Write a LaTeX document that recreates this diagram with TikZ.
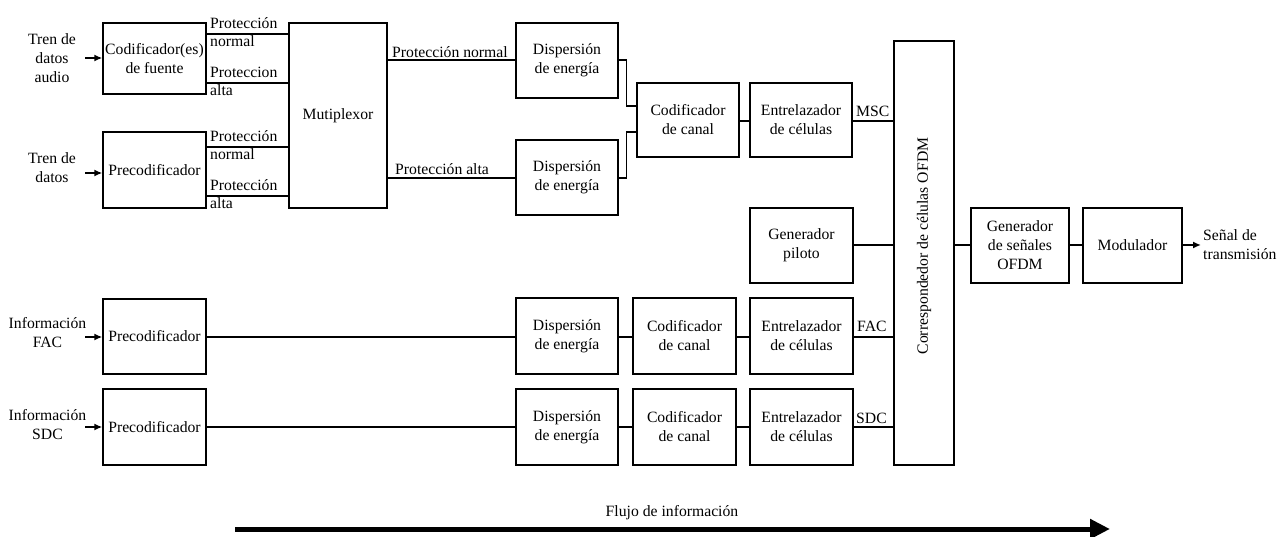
\documentclass[tikz,border=0pt]{standalone}
\usepackage{fontspec}
\setmainfont{Liberation Serif}
\usetikzlibrary{arrows.meta}
\tikzset{
  txt/.style={font=\fontsize{15.7}{19}\selectfont, inner sep=0pt},
  box/.style={txt, draw, line width=1.3pt, align=center},
  conn/.style={line width=2.6pt},
  thinconn/.style={line width=1.3pt},
  inarr/.style={line width=2pt, -{Latex[length=8pt,width=7pt]}},
  flow/.style={line width=5pt, -{Triangle[length=20pt,width=19pt]}},
  lab/.style={txt, align=center},
  plab/.style={txt, anchor=base west}
}
\begin{document}
\begin{tikzpicture}[x=1pt,y=-1pt]
\useasboundingbox (0,0) rectangle (1288,537);
% boxes
\node[box, minimum width=103pt, minimum height=71pt] (cod) at (154.5,58.5) {Codificador(es)\\de fuente};
\node[box, minimum width=103pt, minimum height=76pt] (pre1) at (154.5,170) {Precodificador};
\node[box, minimum width=98pt, minimum height=185pt] (mux) at (338,115.5) {Mutiplexor};
\node[box, minimum width=102pt, minimum height=75pt] (disp1) at (567,60.5) {Dispersión\\de energía};
\node[box, minimum width=102pt, minimum height=75pt] (disp2) at (567,177.5) {Dispersión\\de energía};
\node[box, minimum width=102pt, minimum height=74pt] (codc) at (688,120) {Codificador\\de canal};
\node[box, minimum width=102pt, minimum height=74pt] (ent1) at (801,120) {Entrelazador\\de células};
\node[box, minimum width=103pt, minimum height=75pt] (pil) at (801.5,245.5) {Generador\\piloto};
\node[box, minimum width=60pt, minimum height=424pt] (corr) at (924,253) {};
\node[txt, rotate=90] (corrtxt) at (924,246) {Correspondedor de células OFDM};
\node[box, minimum width=98pt, minimum height=75pt] (gen) at (1020,245.5) {Generador\\de señales\\OFDM};
\node[box, minimum width=99pt, minimum height=75pt] (mod) at (1132.5,245.5) {Modulador};
\node[box, minimum width=103pt, minimum height=75pt] (pre2) at (154.5,336.5) {Precodificador};
\node[box, minimum width=102pt, minimum height=76pt] (dispF) at (567,336) {Dispersión\\de energía};
\node[box, minimum width=103pt, minimum height=76pt] (codF) at (684.5,336) {Codificador\\de canal};
\node[box, minimum width=103pt, minimum height=76pt] (entF) at (801.5,336) {Entrelazador\\de células};
\node[box, minimum width=103pt, minimum height=76pt] (pre3) at (154.5,427) {Precodificador};
\node[box, minimum width=102pt, minimum height=76pt] (dispS) at (567,427) {Dispersión\\de energía};
\node[box, minimum width=103pt, minimum height=76pt] (codS) at (684.5,427) {Codificador\\de canal};
\node[box, minimum width=103pt, minimum height=76pt] (entS) at (801.5,427) {Entrelazador\\de células};
% input labels
\node[lab] (in1) at (52,58) {Tren de\\datos\\audio};
\node[lab] (in2) at (52,168) {Tren de\\datos};
\node[lab] (in3) at (47.5,333) {Información\\FAC};
\node[lab] (in4) at (47.5,425) {Información\\SDC};
\coordinate (a1) at (85,58);
\coordinate (a2) at (85,173);
\coordinate (a3) at (85,337);
\coordinate (a4) at (85,427);
\draw[inarr] (a1) -- (a1 -| cod.west);
\draw[inarr] (a2) -- (a2 -| pre1.west);
\draw[inarr] (a3) -- (a3 -| pre2.west);
\draw[inarr] (a4) -- (a4 -| pre3.west);
% level coordinates
\coordinate (y34) at (0,34);
\coordinate (y83) at (0,83);
\coordinate (y147) at (0,147);
\coordinate (y196) at (0,196);
\coordinate (y60) at (0,60);
\coordinate (y178) at (0,178);
\coordinate (y106) at (0,106);
\coordinate (y132) at (0,132);
\coordinate (y121) at (0,121);
\coordinate (y245) at (0,245);
\coordinate (y337) at (0,337);
\coordinate (y427) at (0,427);
% encoder -> mux
\draw[conn] (cod.east |- y34) -- (mux.west |- y34);
\draw[conn] (cod.east |- y83) -- (mux.west |- y83);
\draw[conn] (pre1.east |- y147) -- (mux.west |- y147);
\draw[conn] (pre1.east |- y196) -- (mux.west |- y196);
\node[plab] (p1) at (210,28.5) {Protección};
\node[plab] (p2) at (210,47) {normal};
\node[plab] (p3) at (210,77.5) {Proteccion};
\node[plab] (p4) at (210,96) {alta};
\node[plab] (p5) at (210,141.5) {Protección};
\node[plab] (p6) at (210,160) {normal};
\node[plab] (p7) at (210,190.5) {Protección};
\node[plab] (p8) at (210,209) {alta};
% mux -> dispersion
\draw[conn] (mux.east |- y60) -- (disp1.west |- y60);
\draw[conn] (mux.east |- y178) -- (disp2.west |- y178);
\node[plab] (pn) at (392,57.5) {Protección normal};
\node[plab] (pa) at (395,175) {Protección alta};
% elbows
\draw[thinconn] (disp1.east |- y60) -- ++(8,0) |- (codc.west |- y106);
\draw[thinconn] (disp2.east |- y178) -- ++(8,0) |- (codc.west |- y132);
% MSC chain
\draw[conn] (codc.east |- y121) -- (ent1.west |- y121);
\draw[conn] (ent1.east |- y121) -- (corr.west |- y121);
\node[plab] (msc) at (856,117) {MSC};
% pilot
\draw[conn] (pil.east |- y245) -- (corr.west |- y245);
% output chain
\draw[conn] (corr.east |- y245) -- (gen.west |- y245);
\draw[conn] (gen.east |- y245) -- (mod.west |- y245);
\coordinate (outend) at (1201,245);
\draw[inarr] (mod.east |- y245) -- (outend);
\node[txt, anchor=west, align=left] (sig) at (1203,245) {Señal de\\transmisión};
% FAC chain
\draw[conn] (pre2.east |- y337) -- (dispF.west |- y337);
\draw[conn] (dispF.east |- y337) -- (codF.west |- y337);
\draw[conn] (codF.east |- y337) -- (entF.west |- y337);
\draw[conn] (entF.east |- y337) -- (corr.west |- y337);
\node[plab] (fac) at (857,332) {FAC};
% SDC chain
\draw[conn] (pre3.east |- y427) -- (dispS.west |- y427);
\draw[conn] (dispS.east |- y427) -- (codS.west |- y427);
\draw[conn] (codS.east |- y427) -- (entS.west |- y427);
\draw[conn] (entS.east |- y427) -- (corr.west |- y427);
\node[plab] (sdc) at (856,423) {SDC};
% flow arrow
\coordinate (fs) at (235,529);
\coordinate (fe) at (1110,529);
\draw[flow] (fs) -- (fe);
\node[txt] (flowtxt) at (672,513) {Flujo de información};
\end{tikzpicture}
\end{document}
